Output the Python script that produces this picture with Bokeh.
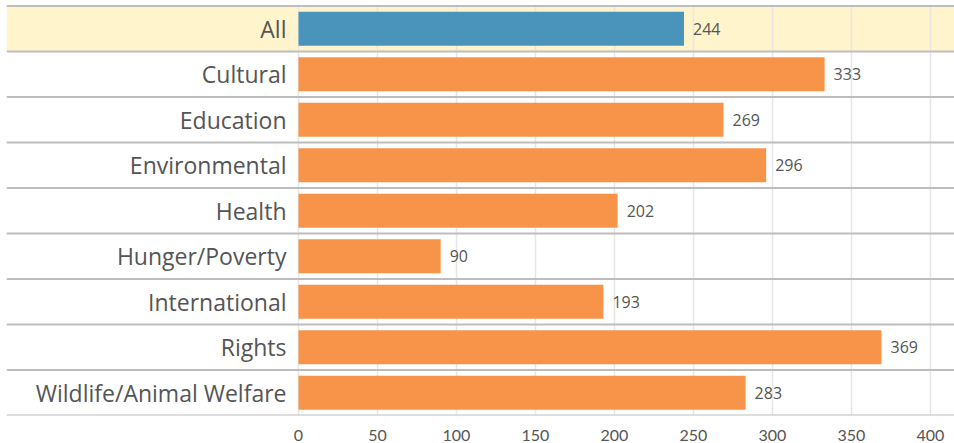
from bokeh.plotting import figure
from bokeh.models import Range1d, FixedTicker, Span, BoxAnnotation, ColumnDataSource
from bokeh.core.properties import value
from bokeh.embed import file_html
from bokeh.resources import INLINE

categories = ["All", "Cultural", "Education", "Environmental", "Health",
              "Hunger/Poverty", "International", "Rights", "Wildlife/Animal Welfare"]
values = [244, 333, 269, 296, 202, 90, 193, 369, 283]
ticks = [0, 50, 100, 150, 200, 250, 300, 350, 400]
highlight = "All"

FONT = "Open Sans"
TICK_FONT = "Lato"
TXT = "#555555"
BLUE = "#4A94BC"
ORANGE = "#F7944A"

n = len(categories)
ys = [n - 1 - i for i in range(n)]
colors = [BLUE if c == highlight else ORANGE for c in categories]
src = ColumnDataSource(dict(cat=categories, val=values, y=ys, color=colors,
                            label=[str(v) for v in values]))

p = figure(width=954, height=443,
           x_range=Range1d(-184.8, 415.2), y_range=Range1d(-0.5, n - 0.5 + 0.033),
           output_backend="svg", toolbar_location=None,
           min_border_left=6, min_border_right=0, min_border_top=4, min_border_bottom=0)
p.outline_line_color = None
p.background_fill_color = "white"
p.yaxis.visible = False
p.ygrid.visible = False
p.xgrid.ticker = FixedTicker(ticks=ticks)
p.xgrid.grid_line_color = "#e6e6e6"
p.xgrid.grid_line_width = 1.5

p.xaxis.ticker = FixedTicker(ticks=ticks)
p.xaxis.axis_line_color = None
p.xaxis.major_tick_line_color = None
p.xaxis.minor_tick_line_color = None
p.xaxis.major_label_text_font = TICK_FONT
p.xaxis.major_label_text_font_size = "16px"
p.xaxis.major_label_text_color = TXT
p.xaxis.major_label_standoff = 8

# highlighted row band
y_hi = ys[categories.index(highlight)]
band = BoxAnnotation(bottom=y_hi - 0.5, top=y_hi + 0.5, fill_color="#FFF4CC",
                     fill_alpha=1, line_color=None, level="image")
p.add_layout(band)

# row separators
for b in [y + 0.5 for y in ys] + [min(ys) - 0.5]:
    p.add_layout(Span(location=b, dimension="width", line_color="#BDBDBD",
                      line_width=2, level="underlay"))

p.hbar(y="y", left=0, right="val", height=0.75, fill_color="color",
       line_color=None, source=src)

p.text(x=0, y="y", text="cat", x_offset=-12, text_align="right",
       text_baseline="middle", text_font=value(FONT), text_font_size="23px",
       text_color=TXT, source=src)
p.text(x="val", y="y", text="label", x_offset=9, text_align="left",
       text_baseline="middle", text_font=value(FONT), text_font_size="16px",
       text_color=TXT, source=src)

open("out.html", "w").write(file_html(p, INLINE))
